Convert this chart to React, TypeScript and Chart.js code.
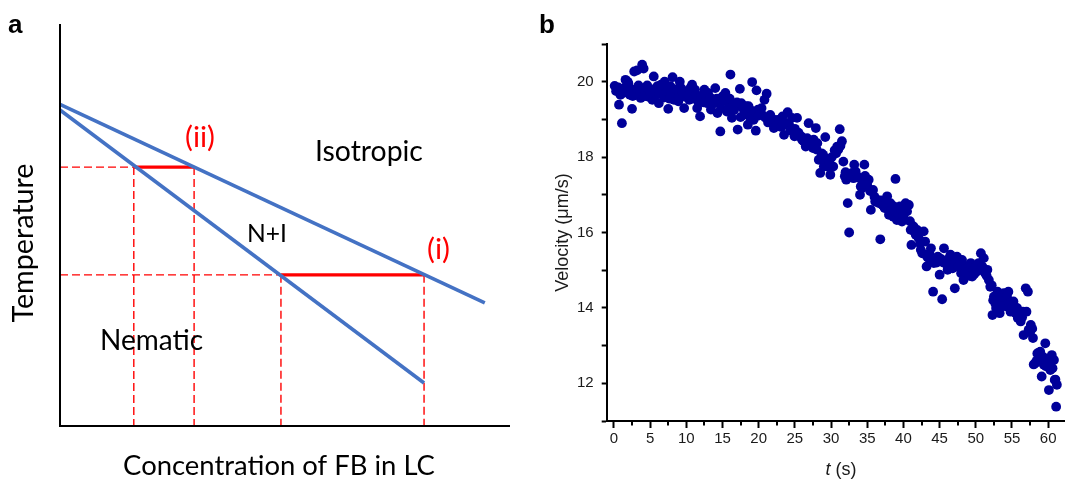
import React, { useEffect, useRef } from "react";
import { Chart, registerables } from "chart.js";

Chart.register(...registerables);

// ---------------- Panel a: schematic phase diagram (arbitrary units 0..10) ----------------
const upperBoundaryX = [0, 9.44];
const upperBoundaryY = [8.0, 3.06];
const lowerBoundaryX = [0, 8.09];
const lowerBoundaryY = [7.86, 1.07];
// tie lines (ii) and (i)
const tieLineY = [6.44, 3.76];
const tieLineLeftX = [1.64, 4.91];
const tieLineRightX = [2.98, 8.09];
const tieLineNames = ["(ii)", "(i)"];
const regionLabels = ["Isotropic", "N+I", "Nematic"];
const panelAAxisTitles = ["Concentration of FB in LC", "Temperature"];

// ---------------- Panel b: velocity vs time ----------------
const timeS = [
  0.1, 0.46, 0.7, 1.1, 1.6, 1.9, 2.2, 2.5, 2.8, 3.2, 3.4, 3.7, 3.9, 4.1, 4.5, 4.8, 0.9, 1.4, 3.0, 4.1,
  5.5, 5.3, 6.0, 6.2, 6.7, 7.0, 7.4, 7.5, 8.1, 7.8, 8.5, 8.3, 9.1, 9.3, 9.7, 9.9, 5.8, 7.1, 8.9,
  10.1, 10.4, 10.8, 11.2, 11.5, 11.9, 12.2, 12.5, 12.8, 13.1, 13.4, 13.8, 14.0, 14.3, 14.7, 15.0, 10.8, 12.9, 14.5,
  15.4, 15.6, 16.1, 16.3, 16.8, 17.1, 17.4, 17.6, 17.95, 18.3, 18.5, 18.8, 19.1, 19.3, 19.6, 19.7, 19.9, 15.9, 17.5, 18.9,
  20.2, 20.5, 20.8, 21.1, 21.3, 21.6, 22.1, 22.6, 22.9, 23.3, 23.5, 24.0, 24.2, 24.6, 24.95, 21.9, 23.7,
  25.3, 25.6, 26.0, 26.5, 26.7, 26.9, 27.3, 27.5, 27.9, 28.1, 28.3, 28.5, 28.9, 29.2, 29.6, 29.9, 26.2, 27.6, 29.0,
  30.3, 30.5, 30.85, 31.2, 31.5, 31.7, 31.9, 32.1, 32.3, 32.5, 32.9, 33.2, 33.6, 34.0, 34.3, 34.6, 34.9, 33.1, 34.1,
  35.2, 35.5, 35.8, 36.1, 36.5, 36.8, 37.1, 37.4, 37.75, 38.0, 38.2, 38.6, 38.9, 39.1, 39.5, 39.8, 36.6, 38.7,
  40.3, 40.5, 40.75, 41.0, 41.1, 41.4, 41.7, 41.9, 42.4, 42.8, 43.0, 43.2, 43.5, 43.8, 44.1, 44.4, 44.75, 42.6, 44.2,
  45.0, 45.35, 45.6, 45.8, 46.1, 46.5, 46.95, 47.1, 47.4, 47.8, 47.97, 48.3, 48.6, 48.8, 49.3, 49.5, 49.7, 46.3, 48.1, 49.0,
  50.2, 50.4, 50.7, 51.1, 51.3, 51.6, 51.8, 52.0, 52.3, 52.5, 52.7, 53.0, 53.3, 53.6, 53.9, 54.2, 54.5, 54.8, 52.95, 54.1,
  55.2, 55.5, 55.8, 56.2, 56.5, 56.6, 56.9, 57.2, 57.3, 57.6, 57.9, 58.2, 58.5, 58.7, 58.9, 59.1, 59.4, 59.6, 59.85, 60.1, 60.3, 60.5, 60.8, 60.9, 61.1, 61.2, 58.9,
  0.3, 0.6, 1.2, 1.8, 2.0, 2.4, 2.6, 3.3, 3.6, 4.3, 4.6, 5.0, 5.6, 6.3, 6.5, 6.9, 7.3, 7.7, 8.0, 8.7, 9.0, 9.5,
  10.3, 10.6, 11.0, 11.4, 11.7, 12.0, 12.4, 13.0, 13.3, 13.6, 14.2, 14.8, 15.2, 15.8, 16.0, 16.6, 17.0, 17.8, 18.1, 18.6, 19.0, 19.5,
  20.0, 20.4, 20.9, 21.5, 22.0, 22.4, 22.8, 23.1, 23.9, 24.4, 25.0, 25.5, 25.9, 26.4, 27.0, 27.7, 28.0, 28.7, 29.3, 29.8,
  30.1, 30.7, 31.0, 31.3, 32.0, 32.7, 33.4, 33.8, 34.4, 34.7, 35.0, 35.4, 36.0, 36.3, 37.0, 37.6, 38.3, 38.8, 39.3, 39.7,
  40.0, 40.9, 41.3, 41.6, 42.1, 42.3, 43.3, 43.6, 44.0, 44.6, 45.2, 45.5, 46.0, 46.8, 47.2, 47.6, 48.0, 48.5, 49.1, 49.8,
  50.0, 50.9, 51.5, 52.2, 52.4, 52.8, 53.2, 53.5, 53.8, 54.3, 54.6, 54.9, 55.0, 55.7, 56.0, 56.4, 57.0, 57.5, 57.8, 58.0, 58.4, 58.6, 59.0, 59.3, 59.7, 60.0, 60.6, 61.0,
];
const velocityUmS = [
  19.89, 19.79, 19.39, 18.9, 20.05, 20.0, 19.65, 19.28, 20.27, 20.3, 19.9, 19.57, 20.45, 20.35, 19.79, 19.6, 19.65, 19.83, 19.65, 19.7,
  20.14, 19.52, 19.88, 19.43, 19.7, 20.0, 19.6, 19.28, 20.12, 19.88, 19.65, 19.52, 20.0, 19.83, 19.3, 19.6, 19.65, 19.83, 19.48,
  19.74, 19.52, 19.92, 19.79, 19.3, 19.08, 19.52, 19.79, 19.7, 19.52, 19.26, 19.52, 19.83, 19.17, 18.68, 19.61, 19.61, 19.43, 19.43,
  19.7, 19.21, 20.19, 19.04, 19.35, 18.73, 19.81, 19.43, 19.12, 19.35, 18.86, 19.26, 19.99, 18.99, 18.7, 19.77, 19.26, 19.43, 19.06, 18.99,
  19.26, 19.12, 19.52, 19.68, 18.92, 19.12, 18.77, 18.99, 18.86, 19.08, 18.59, 19.19, 18.86, 19.04, 18.55, 18.95, 18.9,
  19.04, 18.55, 18.46, 18.28, 18.5, 18.9, 18.37, 18.24, 18.77, 18.37, 17.93, 17.58, 18.06, 18.53, 17.75, 17.53, 18.42, 18.46, 17.75,
  17.75, 18.18, 18.28, 18.74, 18.42, 17.88, 17.49, 17.4, 16.78, 16.0, 17.58, 17.8, 17.49, 17.0, 17.18, 17.8, 17.4, 17.44, 17.22,
  17.4, 16.6, 17.13, 16.82, 16.86, 15.82, 16.73, 16.65, 16.96, 16.47, 16.78, 16.42, 17.42, 16.33, 16.69, 16.29, 16.78, 16.69,
  16.78, 16.56, 16.73, 16.07, 15.67, 16.16, 15.94, 16.07, 15.54, 16.03, 15.76, 15.1, 15.32, 15.58, 14.43, 15.27, 15.36, 15.45, 15.19,
  14.88, 14.23, 15.58, 15.19, 15.01, 15.41, 15.27, 14.52, 15.36, 15.27, 14.92, 14.74, 15.1, 14.97, 15.19, 14.83, 15.05, 15.32, 15.27, 15.05,
  14.97, 15.19, 15.45, 15.32, 14.92, 15.01, 14.74, 14.56, 13.81, 14.3, 14.12, 14.43, 13.86, 14.17, 14.39, 14.04, 14.43, 13.9, 13.99, 14.21,
  14.17, 13.86, 13.73, 13.64, 13.9, 13.28, 14.52, 14.43, 13.42, 13.55, 13.2, 12.53, 12.79, 12.62, 12.84, 12.18, 12.49, 13.06, 12.58, 11.82, 12.35, 12.75, 12.62, 12.09, 11.38, 11.96, 12.71,
  19.75, 19.85, 19.7, 19.72, 19.95, 19.8, 19.62, 19.75, 19.7, 19.62, 19.9, 19.72, 19.8, 19.72, 19.92, 19.58, 19.75, 19.55, 19.7, 19.8, 19.58, 19.72,
  19.65, 19.85, 19.55, 19.65, 19.45, 19.62, 19.45, 19.7, 19.58, 19.4, 19.55, 19.3, 19.5, 19.3, 19.55, 19.25, 19.45, 19.3, 19.2, 19.35, 19.1, 19.2,
  19.1, 19.3, 19.05, 18.95, 19.0, 18.82, 18.95, 18.8, 18.85, 18.7, 18.75, 18.65, 18.55, 18.45, 18.4, 18.32, 18.2, 18.1, 17.95, 17.85,
  18.0, 18.1, 18.2, 18.3, 17.6, 17.5, 17.62, 17.45, 17.3, 17.5, 17.25, 17.1, 16.95, 16.85, 16.85, 16.8, 16.6, 16.55, 16.5, 16.6,
  16.45, 16.3, 16.1, 16.0, 15.85, 15.7, 15.35, 15.45, 15.25, 15.2, 15.3, 15.2, 15.15, 15.05, 15.2, 15.1, 15.0, 14.95, 14.85, 14.9,
  15.1, 15.1, 14.85, 14.6, 14.2, 14.0, 14.2, 14.3, 14.05, 14.3, 14.1, 14.15, 14.0, 14.0, 13.8, 13.75, 13.9, 13.35, 13.45, 12.5, 12.6, 12.8, 12.6, 12.7, 12.45, 12.55, 12.4, 12.1,
];
const xTickStep = 5;
const xMinorStep = 2.5;
const yTickStep = 1;
const yLabelEvery = 2;
const panelBTitles = ["Velocity (\u03bcm/s)", "t", " (s)"];

const LATO = "Lato, 'Open Sans', sans-serif";
const ARIAL = "'Liberation Sans', Arial, sans-serif";

function fitText(ctx: CanvasRenderingContext2D, text: string, x: number, y: number, w: number,
  family: string, color: string, align: CanvasTextAlign = "left", weight = "normal") {
  ctx.font = `${weight} 100px ${family}`;
  const m = ctx.measureText(text).width;
  const size = (100 * w) / m;
  ctx.font = `${weight} ${size}px ${family}`;
  ctx.fillStyle = color;
  ctx.textAlign = align;
  ctx.textBaseline = "alphabetic";
  ctx.fillText(text, x, y);
}

const panelAPlugin = {
  id: "panelADecor",
  afterDraw(chart: any) {
    const ctx: CanvasRenderingContext2D = chart.ctx;
    const { left, top, right, bottom } = chart.chartArea;
    ctx.save();
    ctx.strokeStyle = "#000";
    ctx.lineWidth = 2;
    ctx.beginPath();
    ctx.moveTo(left, top);
    ctx.lineTo(left, bottom);
    ctx.lineTo(right, bottom);
    ctx.stroke();

    ctx.font = `bold 26px ${ARIAL}`;
    ctx.fillStyle = "#000";
    ctx.textAlign = "left";
    ctx.textBaseline = "alphabetic";
    ctx.fillText("a", 8, 33);

    fitText(ctx, tieLineNames[0], 185, 147, 30, LATO, "#ff0000");
    fitText(ctx, tieLineNames[1], 427, 259, 23, LATO, "#ff0000");
    fitText(ctx, regionLabels[0], 315, 161, 108, LATO, "#000");
    fitText(ctx, regionLabels[1], 247, 242, 40, LATO, "#000");
    fitText(ctx, regionLabels[2], 100, 350, 103, LATO, "#000");
    fitText(ctx, panelAAxisTitles[0], 279, 475, 312, LATO, "#000", "center");

    ctx.save();
    ctx.translate(33, 243);
    ctx.rotate(-Math.PI / 2);
    fitText(ctx, panelAAxisTitles[1], 0, 0, 159, LATO, "#000", "center");
    ctx.restore();
    ctx.restore();
  },
};

const panelBPlugin = {
  id: "panelBDecor",
  afterDraw(chart: any) {
    const ctx: CanvasRenderingContext2D = chart.ctx;
    const xs = chart.scales.x;
    const { bottom } = chart.chartArea;
    ctx.save();
    ctx.strokeStyle = "#000";
    ctx.lineWidth = 2;
    for (let v = xMinorStep; v < xs.max; v += xTickStep) {
      const px = Math.round(xs.getPixelForValue(v));
      ctx.beginPath();
      ctx.moveTo(px, bottom);
      ctx.lineTo(px, bottom + 4.5);
      ctx.stroke();
    }
    ctx.font = `bold 26px ${ARIAL}`;
    ctx.fillStyle = "#000";
    ctx.textAlign = "left";
    ctx.textBaseline = "alphabetic";
    ctx.fillText("b", 9, 33);

    // x title: italic t + (s)
    ctx.font = `18px ${ARIAL}`;
    const w2 = ctx.measureText(panelBTitles[2]).width;
    ctx.font = `italic 18px ${ARIAL}`;
    const w1 = ctx.measureText(panelBTitles[1]).width;
    const cx = 311;
    const x0 = cx - (w1 + w2) / 2;
    ctx.fillStyle = "#1a1a1a";
    ctx.fillText(panelBTitles[1], x0, 475);
    ctx.font = `18px ${ARIAL}`;
    ctx.fillText(panelBTitles[2], x0 + w1, 475);
    ctx.restore();
  },
};

function seg(x: number[], y: number[]) {
  return x.map((v, i) => ({ x: v, y: y[i] }));
}

export default function App() {
  const refA = useRef<HTMLCanvasElement>(null);
  const refB = useRef<HTMLCanvasElement>(null);

  useEffect(() => {
    const blue = "#4472C4";
    const red = "#ff0000";
    const datasetsA: any[] = [
      { data: seg(upperBoundaryX, upperBoundaryY), borderColor: blue, borderWidth: 3.6 },
      { data: seg(lowerBoundaryX, lowerBoundaryY), borderColor: blue, borderWidth: 3.6 },
    ];
    tieLineY.forEach((ty, i) => {
      datasetsA.push({ data: seg([tieLineLeftX[i], tieLineRightX[i]], [ty, ty]), borderColor: red, borderWidth: 3.2 });
    });
    tieLineY.forEach((ty, i) => {
      const dash = { borderColor: red, borderWidth: 1.4, borderDash: [8, 4] };
      datasetsA.push({ data: seg([0, tieLineLeftX[i]], [ty, ty]), ...dash });
      datasetsA.push({ data: seg([tieLineLeftX[i], tieLineLeftX[i]], [ty, 0]), ...dash });
      datasetsA.push({ data: seg([tieLineRightX[i], tieLineRightX[i]], [ty, 0]), ...dash });
    });
    datasetsA.forEach((d) => {
      d.showLine = true;
      d.pointRadius = 0;
      d.pointHoverRadius = 0;
      d.fill = false;
      d.tension = 0;
      d.clip = false;
    });

    const chartA = new Chart(refA.current!, {
      type: "scatter",
      data: { datasets: datasetsA },
      options: {
        animation: false,
        responsive: false,
        devicePixelRatio: 1,
        events: [],
        layout: { padding: { left: 60, top: 24, right: 20, bottom: 55 } },
        plugins: { legend: { display: false }, tooltip: { enabled: false } },
        scales: {
          x: { type: "linear", min: 0, max: 10, display: false },
          y: { type: "linear", min: 0, max: 10, display: false },
        },
      },
      plugins: [panelAPlugin],
    } as any);

    const chartB = new Chart(refB.current!, {
      type: "scatter",
      data: {
        datasets: [
          {
            data: seg(timeS, velocityUmS),
            backgroundColor: "#000099",
            borderColor: "#000099",
            borderWidth: 0,
            pointRadius: 4.9,
            pointHoverRadius: 4.9,
          },
        ],
      },
      options: {
        animation: false,
        responsive: false,
        devicePixelRatio: 1,
        events: [],
        layout: { padding: { left: 0, top: 44, right: 0, bottom: 0 } },
        plugins: { legend: { display: false }, tooltip: { enabled: false } },
        scales: {
          x: {
            type: "linear",
            min: -1,
            max: 62.2,
            afterFit: (s: any) => { s.height = 60; },
            grid: { drawOnChartArea: false, drawTicks: true, tickLength: 7, tickWidth: 2, color: "#000", tickColor: "#000" },
            border: { display: true, color: "#000", width: 2 },
            ticks: {
              stepSize: xTickStep,
              includeBounds: false,
              autoSkip: false,
              maxRotation: 0,
              padding: 2,
              color: "#1a1a1a",
              font: { family: ARIAL, size: 15 },
            },
          },
          y: {
            type: "linear",
            min: 11,
            max: 21,
            afterFit: (s: any) => { s.width = 76.7; },
            grid: { drawOnChartArea: false, drawTicks: true, tickLength: 5, tickWidth: 2, color: "#000", tickColor: "#000" },
            border: { display: true, color: "#000", width: 2 },
            title: {
              display: true,
              text: panelBTitles[0],
              color: "#1a1a1a",
              font: { family: ARIAL, size: 18 },
              padding: { top: 22, bottom: 0 },
            },
            ticks: {
              stepSize: yTickStep,
              includeBounds: false,
              autoSkip: false,
              padding: 8,
              color: "#1a1a1a",
              font: { family: ARIAL, size: 15 },
              callback: (v: any) => (Number(v) % yLabelEvery === 0 ? String(v) : ""),
            },
          },
        },
      },
      plugins: [panelBPlugin],
    } as any);

    return () => {
      chartA.destroy();
      chartB.destroy();
    };
  }, []);

  return (
    <div style={{ position: "absolute", left: 0, top: 0, width: 1069, height: 481, background: "#fff" }}>
      <canvas ref={refA} width={530} height={481} style={{ position: "absolute", left: 0, top: 0, width: 530, height: 481 }} />
      <canvas ref={refB} width={539} height={481} style={{ position: "absolute", left: 530, top: 0, width: 539, height: 481 }} />
    </div>
  );
}
